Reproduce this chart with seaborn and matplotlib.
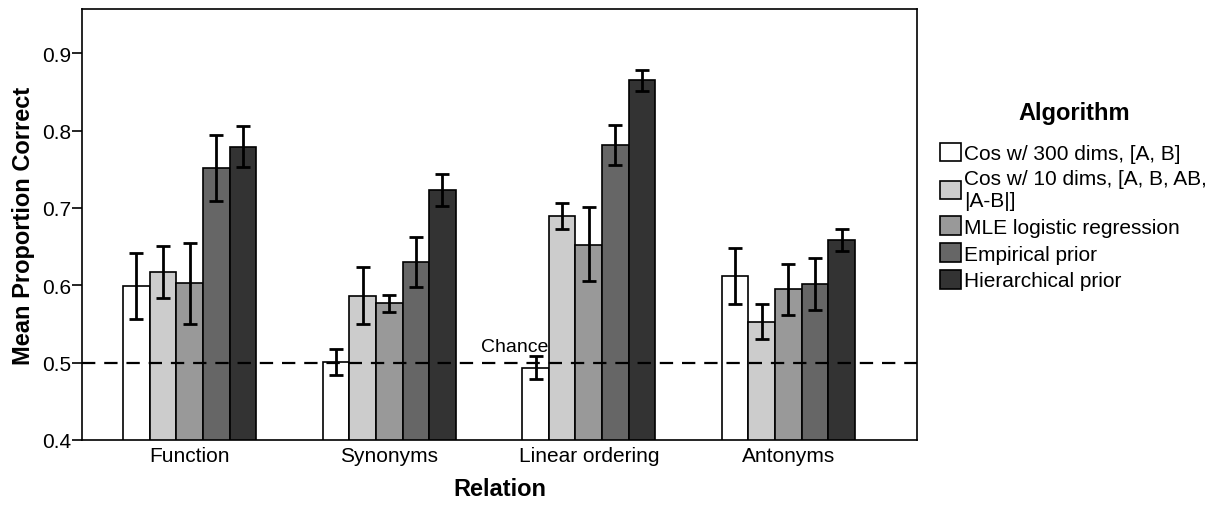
import numpy as np
import pandas as pd
import matplotlib
matplotlib.use('Agg')
import matplotlib.pyplot as plt
import seaborn as sns

# values
relations = ['Function', 'Synonyms', 'Linear ordering', 'Antonyms']
algorithms = ['Cos w/ 300 dims, [A, B]',
              'Cos w/ 10 dims, [A, B, AB,\n|A-B|]',
              'MLE logistic regression',
              'Empirical prior',
              'Hierarchical prior']
colors = ['#ffffff', '#cccccc', '#999999', '#666666', '#333333']

# mean per algorithm, in relation order
cos300 = [0.599, 0.501, 0.493, 0.612]
cos10 = [0.617, 0.586, 0.690, 0.553]
mle = [0.603, 0.577, 0.652, 0.595]
empirical = [0.751, 0.630, 0.781, 0.601]
hierarchical = [0.779, 0.723, 0.865, 0.659]

# error bar ends
lo_cos300 = [0.556, 0.484, 0.479, 0.576]
hi_cos300 = [0.642, 0.518, 0.508, 0.648]
lo_cos10 = [0.583, 0.550, 0.673, 0.531]
hi_cos10 = [0.651, 0.623, 0.707, 0.576]
lo_mle = [0.550, 0.565, 0.605, 0.562]
hi_mle = [0.655, 0.588, 0.701, 0.627]
lo_emp = [0.709, 0.598, 0.756, 0.568]
hi_emp = [0.794, 0.663, 0.807, 0.635]
lo_hier = [0.753, 0.702, 0.851, 0.644]
hi_hier = [0.806, 0.744, 0.878, 0.673]

chance = 0.5

means = [cos300, cos10, mle, empirical, hierarchical]
lows = [lo_cos300, lo_cos10, lo_mle, lo_emp, lo_hier]
highs = [hi_cos300, hi_cos10, hi_mle, hi_emp, hi_hier]

rows = []
for a, m, lo, hi in zip(algorithms, means, lows, highs):
    for r, v, l, h in zip(relations, m, lo, hi):
        rows.append({'Relation': r, 'Algorithm': a, 'mean': v, 'lo': l, 'hi': h})
df = pd.DataFrame(rows)

sns.set_style('white')
plt.rcParams['font.family'] = ['Liberation Sans', 'DejaVu Sans']
plt.rcParams['text.color'] = 'black'
plt.rcParams['axes.labelcolor'] = 'black'
plt.rcParams['xtick.color'] = 'black'
plt.rcParams['ytick.color'] = 'black'

fig = plt.figure(figsize=(12.25, 5.06), dpi=100)
ax = fig.add_axes([0.0669, 0.1285, 0.6817, 0.8515])

sns.barplot(data=df, x='Relation', y='mean', hue='Algorithm',
            order=relations, hue_order=algorithms,
            palette=colors, errorbar=None, width=0.667,
            edgecolor='black', linewidth=1.2, ax=ax)

# error bars at the bar centres seaborn placed
for cont, alg in zip(ax.containers, algorithms):
    sub = df[df.Algorithm == alg].set_index('Relation').loc[relations]
    xs = [p.get_x() + p.get_width() / 2 for p in cont.patches]
    ys = sub['mean'].values
    yerr = [ys - sub['lo'].values, sub['hi'].values - ys]
    ax.errorbar(xs, ys, yerr=yerr, fmt='none', ecolor='black',
                elinewidth=2, capsize=5, capthick=2, zorder=5)

ax.axhline(chance, color='black', linestyle=(0, (6, 4)), linewidth=1.6, zorder=4)
ax.text(1.63, chance + 0.01, 'Chance', fontsize=14, ha='center', va='bottom')

ax.set_ylim(0.4, 0.957)
ax.set_xlim(-0.54, 3.645)
ax.set_yticks([0.4, 0.5, 0.6, 0.7, 0.8, 0.9])
ax.set_yticklabels(['0.4', '0.5', '0.6', '0.7', '0.8', '0.9'])
ax.tick_params(axis='y', direction='out', length=7, width=1.2, labelsize=15, left=True, pad=1)
ax.tick_params(axis='x', length=0, labelsize=15, pad=4)

for s in ax.spines.values():
    s.set_visible(True)
    s.set_color('black')
    s.set_linewidth(1.2)

ax.set_xlabel('Relation', fontsize=17, fontweight='bold', labelpad=9)
ax.set_ylabel('Mean Proportion Correct', fontsize=17, fontweight='bold', labelpad=5)

leg = ax.legend(title='Algorithm', loc='upper left', bbox_to_anchor=(1.018, 0.805),
                frameon=False, fontsize=15, title_fontsize=17,
                handlelength=1.0, handleheight=1.0, handletextpad=0.15,
                labelspacing=0.3, borderaxespad=0)
leg.get_title().set_fontweight('bold')
leg._legend_box.sep = 13  # more room under the title
for h in leg.legend_handles:
    h.set_edgecolor('black')
    h.set_linewidth(1.2)
for t in leg.get_texts():
    t.set_color('black')

fig.savefig('out.png', dpi=100)
